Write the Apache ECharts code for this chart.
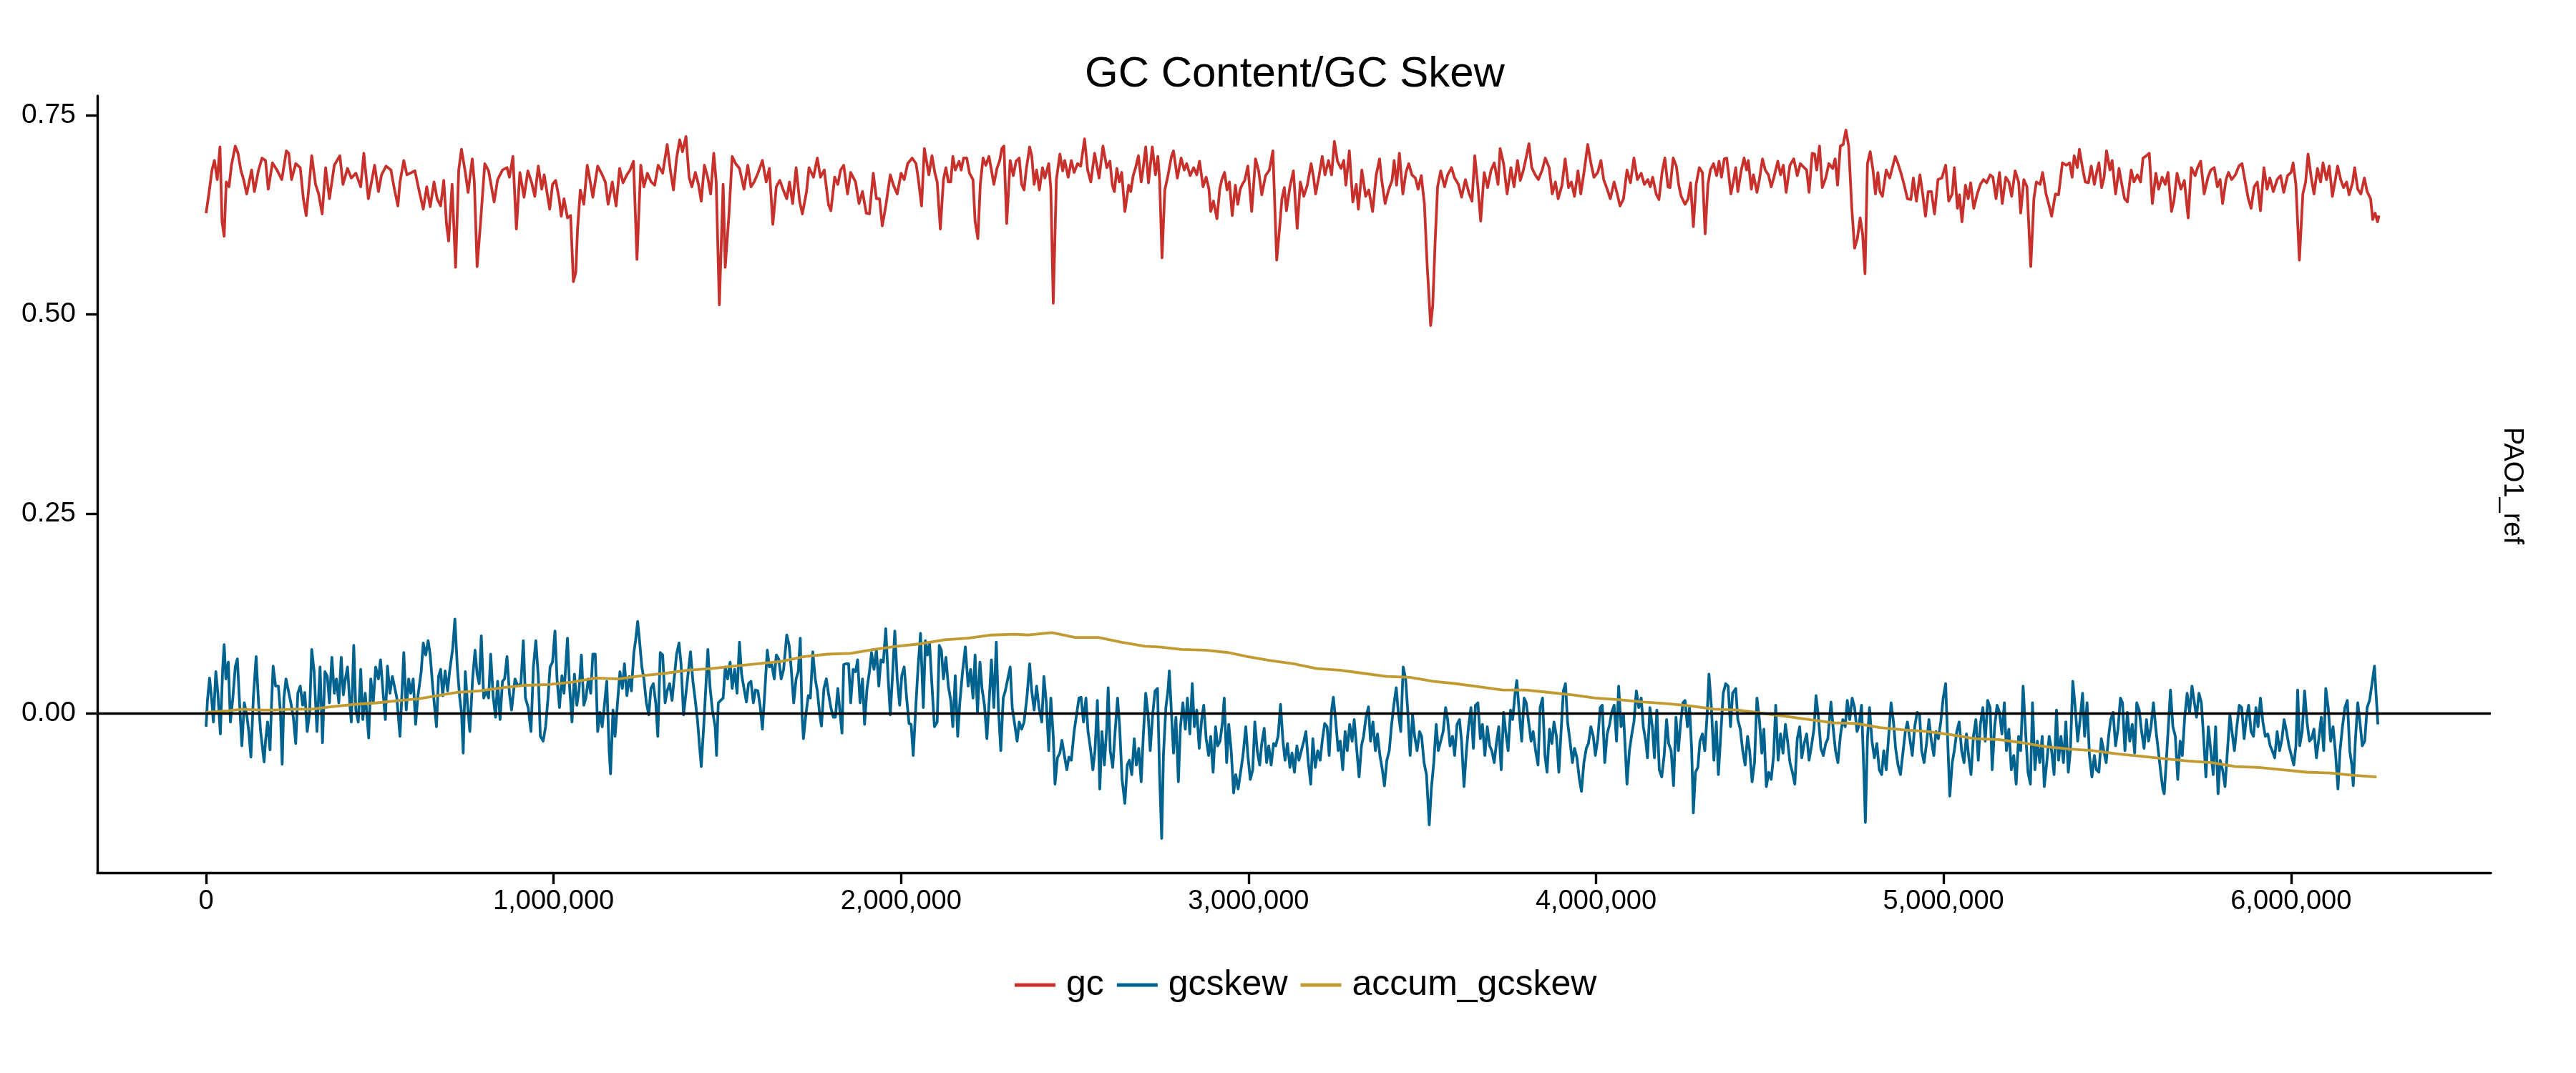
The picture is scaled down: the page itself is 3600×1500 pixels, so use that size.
<!DOCTYPE html>
<html>
<head>
<meta charset="utf-8">
<title>GC Content/GC Skew</title>
<script src="https://cdn.jsdelivr.net/npm/echarts@6/dist/echarts.min.js"></script>
<style>
  html, body { margin: 0; padding: 0; background: #fff; }
  #chart { width: 3600px; height: 1500px; }
</style>
</head>
<body>
<div id="chart"></div>
<script>
// window position in kb, value
var gcPoints = [
  [0,.627],[8,.651],[17,.681],[24,.693],[32,.669],[40,.710],[46,.616],[52,.598],[58,.666],[66,.660],[73,.687],[84,.711],[92,.702],[100,.681],[108,.669],[117,.651],[131,.681],[139,.654],[151,.681],[161,.696],[171,.693],[179,.657],[191,.690],[204,.681],[218,.669],[231,.705],[238,.702],[246,.669],[258,.689],[271,.684],[280,.645],[288,.624],[298,.669],[304,.699],[315,.663],[324,.651],[334,.626],[344,.684],[355,.645],[369,.687],[385,.699],[394,.663],[407,.683],[418,.671],[431,.677],[445,.660],[454,.702],[467,.645],[485,.687],[496,.654],[505,.675],[518,.686],[532,.681],[541,.659],[552,.636],[558,.666],[569,.693],[578,.675],[592,.678],[601,.680],[612,.657],[625,.632],[635,.660],[645,.635],[656,.666],[665,.645],[675,.636],[684,.668],[692,.613],[698,.592],[708,.663],[718,.559],[727,.681],[735,.707],[746,.678],[754,.653],[766,.695],[772,.666],[780,.560],[790,.616],[802,.689],[813,.680],[829,.641],[839,.669],[853,.681],[866,.684],[873,.672],[883,.698],[893,.607],[903,.678],[915,.647],[926,.680],[937,.665],[946,.648],[956,.686],[966,.657],[973,.675],[984,.645],[989,.632],[997,.663],[1006,.668],[1016,.645],[1022,.623],[1030,.645],[1040,.621],[1049,.624],[1057,.541],[1064,.553],[1069,.607],[1077,.656],[1087,.638],[1097,.687],[1107,.663],[1113,.647],[1127,.686],[1140,.675],[1149,.666],[1157,.638],[1169,.666],[1180,.636],[1190,.683],[1200,.665],[1211,.675],[1220,.681],[1230,.692],[1240,.569],[1251,.687],[1260,.660],[1270,.677],[1281,.666],[1291,.662],[1301,.687],[1314,.677],[1327,.713],[1337,.678],[1345,.656],[1354,.696],[1363,.719],[1371,.704],[1381,.723],[1390,.672],[1398,.660],[1408,.678],[1417,.663],[1425,.642],[1434,.687],[1444,.671],[1452,.651],[1461,.702],[1468,.666],[1477,.512],[1488,.663],[1494,.559],[1505,.627],[1514,.698],[1524,.689],[1535,.683],[1548,.657],[1559,.687],[1568,.660],[1577,.666],[1588,.677],[1601,.693],[1612,.666],[1621,.683],[1631,.613],[1641,.660],[1651,.668],[1661,.656],[1671,.645],[1679,.666],[1688,.639],[1698,.684],[1708,.642],[1716,.626],[1728,.654],[1735,.684],[1748,.672],[1759,.696],[1768,.672],[1779,.681],[1791,.638],[1798,.630],[1809,.672],[1818,.663],[1826,.681],[1835,.687],[1846,.651],[1855,.678],[1869,.666],[1879,.639],[1889,.654],[1900,.627],[1909,.626],[1920,.677],[1929,.645],[1938,.645],[1946,.611],[1956,.636],[1969,.675],[1978,.662],[1989,.651],[2000,.677],[2009,.669],[2019,.689],[2032,.696],[2043,.689],[2049,.672],[2059,.636],[2067,.708],
  [2080,.675],[2089,.699],[2097,.678],[2104,.666],[2113,.607],[2122,.669],[2129,.684],[2136,.666],[2143,.666],[2149,.698],[2156,.681],[2167,.692],[2173,.681],[2180,.696],[2189,.696],[2197,.677],[2207,.669],[2213,.617],[2221,.595],[2228,.663],[2236,.696],[2244,.687],[2253,.698],[2260,.681],[2267,.663],[2276,.683],[2284,.693],[2290,.708],[2296,.711],[2304,.614],[2314,.693],[2323,.674],[2331,.692],[2340,.696],[2347,.663],[2354,.656],[2360,.681],[2370,.710],[2376,.699],[2383,.663],[2390,.681],[2398,.656],[2407,.684],[2414,.671],[2425,.689],[2431,.657],[2438,.514],[2447,.669],[2457,.701],[2465,.680],[2471,.693],[2481,.672],[2490,.693],[2498,.678],[2508,.689],[2517,.686],[2528,.720],[2537,.681],[2546,.666],[2557,.702],[2570,.671],[2581,.711],[2592,.684],[2601,.692],[2608,.662],[2614,.654],[2621,.683],[2628,.666],[2635,.678],[2644,.629],[2655,.662],[2661,.654],[2668,.674],[2675,.684],[2683,.699],[2691,.666],[2696,.681],[2704,.710],[2712,.665],[2723,.710],[2732,.675],[2739,.698],[2744,.669],[2751,.571],[2759,.656],[2768,.674],[2778,.698],[2784,.705],[2795,.671],[2806,.696],[2815,.681],[2822,.689],[2832,.674],[2842,.684],[2851,.675],[2859,.692],[2869,.660],[2878,.672],[2886,.657],[2891,.629],[2899,.642],[2909,.620],[2917,.657],[2923,.669],[2931,.678],[2938,.656],[2945,.666],[2953,.624],[2962,.662],[2969,.638],[2976,.657],[2982,.663],[2989,.668],[2998,.686],[3009,.629],[3020,.695],[3029,.680],[3038,.650],[3049,.674],[3060,.681],[3070,.705],[3081,.568],[3089,.607],[3096,.645],[3103,.659],[3109,.630],[3119,.660],[3129,.680],[3140,.608],[3149,.666],[3159,.648],[3169,.662],[3180,.689],[3187,.672],[3193,.651],[3203,.674],[3212,.698],[3220,.675],[3230,.693],[3239,.675],[3247,.717],[3256,.692],[3266,.683],[3274,.693],[3280,.662],[3290,.705],[3300,.641],[3310,.663],[3316,.632],[3326,.681],[3337,.648],[3346,.656],[3357,.629],[3367,.674],[3377,.695],[3383,.669],[3393,.639],[3403,.656],[3413,.668],[3419,.693],[3426,.662],[3434,.702],[3444,.651],[3453,.678],[3461,.689],[3470,.675],[3480,.671],[3488,.657],[3497,.674],[3506,.639],[3514,.562],[3524,.486],[3530,.511],[3537,.592],[3544,.660],[3553,.680],[3564,.660],[3573,.675],[3584,.684],[3593,.671],[3604,.663],[3613,.647],[3624,.669],[3635,.651],[3643,.642],[3651,.699],[3660,.660],[3668,.617],[3678,.678],[3688,.659],[3698,.681],[3707,.690],[3718,.663],[3724,.708],[3734,.689],[3744,.651],[3755,.684],[3764,.660],[3774,.693],[3782,.668],[3791,.681],[3798,.695],[3807,.714],[3815,.684],[3825,.675],[3834,.669],[3845,.681],[3854,.696],[3865,.684],[3874,.651],[3883,.666],[3891,.645],[3902,.662],[3911,.695],[3921,.659],[3929,.666],[3938,.648],[3948,.680],[3956,.651],[3965,.677],[3976,.713],[3985,.690],[3994,.672],[4005,.678],[4014,.693],[4022,.669],[4032,.657],[4041,.645],[4052,.666],[4061,.651],[4069,.636],[4079,.645],[4089,.681],[4099,.665],[4109,.696],[4119,.669],[4130,.677],[4139,.663],
  [4149,.669],[4156,.660],[4163,.672],[4173,.651],[4181,.644],[4190,.678],[4198,.696],[4207,.660],[4213,.659],[4222,.696],[4231,.686],[4238,.662],[4245,.648],[4256,.638],[4265,.645],[4272,.665],[4280,.610],[4288,.663],[4297,.684],[4306,.678],[4314,.601],[4322,.663],[4329,.681],[4338,.689],[4347,.674],[4354,.692],[4361,.672],[4369,.695],[4376,.696],[4381,.678],[4388,.651],[4395,.666],[4402,.684],[4408,.654],[4418,.681],[4426,.696],[4433,.681],[4438,.693],[4447,.657],[4453,.675],[4463,.653],[4470,.669],[4479,.695],[4487,.681],[4496,.675],[4504,.660],[4512,.672],[4523,.692],[4531,.675],[4539,.687],[4547,.653],[4558,.687],[4569,.695],[4579,.674],[4588,.689],[4599,.684],[4606,.681],[4613,.653],[4622,.702],[4629,.701],[4635,.681],[4643,.711],[4651,.659],[4661,.671],[4670,.689],[4681,.683],[4688,.695],[4695,.662],[4703,.711],[4711,.713],[4719,.731],[4727,.711],[4736,.633],[4744,.583],[4752,.595],[4760,.621],[4767,.601],[4774,.551],[4781,.689],[4789,.704],[4797,.681],[4804,.651],[4811,.678],[4817,.654],[4824,.648],[4835,.681],[4845,.671],[4854,.686],[4861,.698],[4869,.689],[4879,.675],[4888,.660],[4896,.645],[4906,.644],[4913,.671],[4922,.642],[4932,.675],[4940,.651],[4948,.623],[4956,.654],[4965,.654],[4974,.626],[4984,.669],[4995,.671],[5006,.687],[5015,.642],[5025,.651],[5031,.684],[5040,.633],[5046,.650],[5053,.616],[5063,.662],[5071,.645],[5078,.665],[5087,.633],[5097,.651],[5106,.663],[5115,.669],[5124,.665],[5134,.675],[5142,.672],[5151,.645],[5161,.678],[5169,.639],[5179,.672],[5188,.666],[5196,.648],[5206,.680],[5216,.666],[5222,.627],[5231,.669],[5240,.660],[5251,.560],[5260,.645],[5267,.666],[5278,.663],[5285,.678],[5295,.651],[5304,.636],[5311,.623],[5322,.651],[5331,.650],[5342,.690],[5353,.687],[5363,.690],[5370,.672],[5376,.699],[5385,.684],[5391,.707],[5401,.681],[5408,.666],[5417,.665],[5425,.686],[5434,.663],[5442,.681],[5447,.690],[5455,.659],[5462,.672],[5469,.705],[5479,.681],[5485,.693],[5495,.651],[5505,.683],[5513,.663],[5521,.645],[5529,.641],[5540,.681],[5548,.666],[5558,.675],[5567,.666],[5574,.696],[5584,.699],[5592,.702],[5601,.639],[5611,.677],[5619,.657],[5629,.672],[5638,.663],[5646,.678],[5656,.629],[5663,.642],[5672,.677],[5683,.657],[5693,.668],[5704,.621],[5713,.684],[5724,.674],[5731,.684],[5740,.692],[5750,.651],[5761,.672],[5769,.681],[5779,.684],[5788,.660],[5796,.669],[5803,.639],[5813,.669],[5820,.678],[5829,.669],[5840,.675],[5850,.686],[5859,.689],[5867,.669],[5877,.645],[5885,.633],[5894,.660],[5903,.666],[5912,.630],[5922,.684],[5931,.657],[5939,.671],[5949,.654],[5960,.669],[5970,.674],[5979,.653],[5990,.674],[6000,.678],[6006,.690],[6014,.663],[6024,.568],[6034,.651],[6042,.666],[6049,.701],[6058,.672],[6066,.651],[6076,.683],[6085,.666],[6092,.690],[6102,.669],[6110,.686],[6119,.648],[6126,.665],[6134,.686],[6143,.669],[6151,.659],[6160,.666],[6167,.650],[6177,.665],[6183,.684],[6192,.657],[6201,.651],[6211,.671],[6219,.654],[6229,.645],[6235,.619],[6242,.627],[6249,.616],[6253,.624]
];

var gcskewPoints = [
  [0,-.017],[4,.016],[10,.044],[17,.013],[21,-.011],[28,.052],[34,.025],[41,-.026],[48,.058],[52,.086],[57,.043],[64,.064],[70,-.011],[77,.019],[84,.058],[90,.068],[97,.007],[103,-.041],[110,.013],[117,-.002],[123,-.023],[129,-.055],[136,.019],[144,.071],[151,.013],[157,-.023],[167,-.061],[171,-.035],[177,-.011],[184,-.046],[188,.007],[193,.059],[200,.034],[208,.034],[214,.001],[219,-.064],[224,.019],[230,.043],[238,.026],[244,.013],[251,-.005],[258,-.038],[264,.025],[271,.034],[278,.010],[284,.026],[291,-.023],[298,.001],[304,.080],[311,.052],[319,-.023],[328,.058],[335,-.037],[342,.052],[349,.046],[355,.013],[362,.070],[369,.025],[375,.043],[382,.013],[389,.070],[395,.023],[401,.043],[407,.058],[414,.010],[418,-.011],[425,.085],[431,.004],[438,-.011],[445,.055],[451,-.008],[458,.025],[468,-.031],[474,.043],[481,.013],[488,.058],[496,.043],[502,.067],[509,.028],[516,-.008],[522,.059],[529,.025],[536,.046],[542,.034],[549,.019],[558,-.029],[569,.076],[576,.004],[583,.043],[589,.025],[596,.043],[603,-.014],[609,.019],[619,.052],[625,.088],[632,.073],[639,.091],[645,.073],[652,.034],[663,-.017],[669,.046],[675,.055],[681,.022],[688,.053],[695,.028],[701,.053],[710,.082],[716,.118],[723,.058],[730,.019],[735,.001],[740,-.050],[746,.052],[752,.013],[759,-.023],[767,.043],[774,.079],[780,.049],[786,.037],[792,.097],[799,.019],[806,.028],[813,.019],[819,.074],[826,.022],[833,-.005],[839,.040],[846,-.008],[853,.040],[859,.043],[866,.071],[873,.025],[879,.004],[889,.043],[897,.034],[906,.037],[913,.091],[919,.019],[927,.007],[935,-.023],[942,.058],[949,.091],[956,.046],[962,-.029],[970,-.035],[977,-.017],[984,.019],[990,.058],[997,.064],[1004,.103],[1010,.043],[1017,.007],[1024,.047],[1030,.025],[1040,.094],[1046,.034],[1053,-.011],[1060,.049],[1067,.010],[1073,.028],[1080,.073],[1087,.010],[1093,.019],[1100,.043],[1107,.025],[1113,.074],[1120,.074],[1127,-.023],[1133,.001],[1140,-.017],[1147,.013],[1153,.040],[1160,-.047],[1164,-.076],[1171,.004],[1177,-.029],[1184,.013],[1191,.052],[1198,.031],[1204,.062],[1211,.022],[1218,.046],[1224,.028],[1231,.076],[1236,.091],[1242,.115],[1248,.088],[1254,.058],[1260,.043],[1267,.013],[1274,-.002],[1280,.031],[1287,.037],[1294,.013],[1300,-.029],[1307,.076],[1314,.073],[1321,.013],[1327,.028],[1334,.037],[1341,.016],[1347,.043],[1354,.074],[1361,.088],[1367,.061],[1374,-.002],[1381,.025],[1387,.049],[1394,.077],[1401,.040],[1407,.019],[1414,-.008],[1420,-.041],[1425,-.067],[1432,-.017],[1438,.031],[1444,.080],[1450,.034],[1457,.004],[1465,-.017],[1469,-.053],[1474,.013],[1481,.016],[1488,.019],[1494,.058],[1501,.043],[1508,.064],[1514,.031],[1521,.055],[1528,.025],[1535,.089],[1541,.049],[1548,.031],[1555,.014],[1561,.037],[1568,.040],[1575,.013],[1581,.029],[1588,.028],[1595,.007],[1601,-.020],[1608,.028],[1615,.079],[1621,.058],[1628,.061],[1635,.043],[1641,.073],[1648,.068],[1655,.043],[1662,.055],[1671,.098],[1678,.085],[1684,.055],[1691,.013],[1698,.043],[1704,.052],[1710,.094],[1715,-.002],[1719,-.032],[1726,-.002],[1733,.022],[1739,.019],[1746,.077],[1753,.043],[1759,.028],[1766,-.002],[1771,-.016],[1778,.031],[1785,.043],[1791,.025],[1798,.007],[1805,-.005],[1811,-.005],[1818,.031],[1825,-.002],[1830,-.025],[1835,.061],[1842,.062],[1849,.062],[1855,.013],[1862,.055],[1869,.052],[1875,.067],[1882,.013],[1889,.043],[1895,-.014],[1902,.031],[1909,.052],[1915,.076],[1922,.055],[1929,.079],[1936,.034],[1942,.067],[1949,.064],[1956,.106],[1963,.043],[1969,-.002],[1976,.052],[1982,.103],[1989,.043],[1996,.010],[2002,.047],[2009,.058],[2016,.019],[2023,-.013],[2029,-.014],[2035,-.053],[2043,.013],[2049,.058],[2056,.100],
  [2064,.007],[2070,.091],[2076,.073],[2082,.088],[2089,.034],[2096,-.017],[2104,-.011],[2110,.085],[2116,.079],[2122,.043],[2129,.070],[2136,.034],[2143,.016],[2149,-.017],[2156,.047],[2163,-.029],[2169,.013],[2177,.052],[2185,.083],[2193,.034],[2200,.055],[2207,.019],[2213,.073],[2220,.001],[2227,.064],[2233,.031],[2240,.010],[2247,-.032],[2254,.019],[2260,.067],[2267,.007],[2274,.089],[2280,.007],[2287,-.047],[2294,.019],[2300,.028],[2307,.043],[2314,.058],[2320,.007],[2327,-.014],[2334,-.035],[2340,-.011],[2347,-.020],[2354,-.011],[2362,.019],[2370,.062],[2376,.028],[2383,.004],[2390,.034],[2397,.007],[2405,-.011],[2411,.046],[2418,.013],[2425,-.047],[2431,.019],[2438,-.029],[2443,-.089],[2450,-.056],[2457,-.050],[2463,-.034],[2470,-.053],[2477,-.071],[2483,-.055],[2490,-.059],[2498,-.023],[2505,-.002],[2512,.019],[2518,.020],[2525,-.011],[2532,.019],[2538,-.023],[2545,-.044],[2552,-.071],[2558,-.047],[2565,.016],[2572,-.095],[2578,-.023],[2585,-.065],[2592,-.017],[2596,.032],[2602,-.047],[2609,-.068],[2616,-.023],[2623,.019],[2629,-.017],[2636,-.083],[2644,-.113],[2651,-.065],[2657,-.059],[2664,-.077],[2671,-.032],[2677,-.065],[2684,-.044],[2691,-.086],[2697,-.029],[2704,.025],[2711,-.002],[2717,-.047],[2724,-.002],[2731,.028],[2738,.031],[2744,-.077],[2750,-.157],[2755,-.053],[2762,.007],[2768,.028],[2772,.053],[2778,.001],[2784,-.050],[2791,-.005],[2798,-.086],[2804,-.017],[2811,.013],[2818,-.020],[2824,.019],[2831,-.026],[2838,.037],[2844,-.017],[2851,.004],[2858,-.044],[2865,-.008],[2871,.010],[2878,-.032],[2885,-.053],[2891,-.029],[2898,-.074],[2905,-.017],[2911,-.041],[2918,-.035],[2925,-.011],[2930,.019],[2937,-.062],[2943,-.014],[2950,-.047],[2957,-.100],[2963,-.077],[2970,-.095],[2977,-.074],[2984,-.053],[2992,-.017],[2998,-.053],[3005,-.083],[3012,-.071],[3018,-.011],[3025,-.047],[3032,-.065],[3038,-.038],[3045,-.019],[3052,-.062],[3058,-.041],[3065,-.065],[3072,-.038],[3078,-.041],[3085,-.029],[3092,.011],[3099,-.035],[3105,-.059],[3112,-.038],[3119,-.068],[3125,-.050],[3132,-.074],[3139,-.041],[3145,-.059],[3152,-.047],[3159,-.035],[3165,-.023],[3172,-.062],[3179,-.089],[3185,-.032],[3192,-.068],[3199,-.047],[3206,-.059],[3212,-.035],[3219,-.013],[3226,-.017],[3232,-.053],[3239,.004],[3244,.020],[3251,-.011],[3258,-.047],[3264,-.035],[3271,-.071],[3278,-.023],[3284,-.047],[3291,-.014],[3298,-.035],[3304,-.008],[3311,-.044],[3318,-.080],[3325,-.041],[3331,-.029],[3338,-.005],[3345,.008],[3351,-.035],[3358,-.011],[3365,-.047],[3371,-.026],[3378,-.053],[3385,-.071],[3391,-.091],[3398,-.059],[3405,-.047],[3411,-.017],[3418,.010],[3425,.032],[3431,.001],[3438,-.023],[3445,.058],[3452,.043],[3458,.004],[3465,-.053],[3472,-.002],[3478,-.029],[3485,-.047],[3492,-.023],[3498,-.029],[3505,-.062],[3512,-.077],[3520,-.140],[3526,-.095],[3533,-.062],[3540,-.014],[3546,-.047],[3553,-.035],[3560,-.023],[3567,.007],[3573,-.008],[3580,-.041],[3587,-.029],[3593,-.053],[3600,-.014],[3607,-.008],[3613,-.035],[3620,-.092],[3627,-.047],[3633,-.017],[3640,.007],[3647,-.044],[3653,.010],[3660,.013],[3667,-.032],[3673,-.014],[3680,-.053],[3687,-.017],[3694,-.041],[3700,-.047],[3707,-.062],[3714,-.035],[3720,-.017],[3727,-.071],[3734,.001],[3740,-.023],[3747,-.047],[3754,.004],[3760,-.008],[3767,.025],[3772,.041],[3779,.001],[3786,-.035],[3793,.019],[3799,.013],[3806,-.011],[3813,-.035],[3819,-.023],[3826,-.047],[3833,-.065],[3839,.007],[3846,.019],[3853,-.053],[3859,-.074],[3866,-.020],[3873,-.038],[3879,-.011],[3886,-.029],[3893,-.074],[3899,-.026],[3906,.028],[3912,.037],[3918,-.011],[3925,-.035],[3932,-.062],[3938,-.044],[3945,-.056],[3952,-.083],[3958,-.098],[3965,-.062],[3972,-.044],[3978,-.038],[3985,-.017],[3992,-.029],[3998,-.053],[4005,-.032],[4012,.007],[4018,.010],[4025,-.062],[4032,-.026],[4039,-.014],[4045,.001],[4052,.010],[4059,-.035],[4065,.034],[4072,-.017],[4079,-.002],[4085,-.053],[4089,-.089],[4096,-.047],[4103,-.026],[4109,-.011],[4116,.028],[4123,.007],[4130,.019],[4136,-.017],
  [4143,-.035],[4148,-.056],[4155,.007],[4162,-.017],[4168,-.056],[4175,.004],[4182,-.071],[4189,-.080],[4196,-.053],[4203,-.008],[4209,-.038],[4216,-.047],[4223,-.091],[4230,-.005],[4237,-.047],[4243,-.014],[4250,.013],[4256,.016],[4263,-.017],[4269,.007],[4275,-.044],[4280,-.125],[4286,-.074],[4293,-.068],[4299,-.035],[4306,-.026],[4313,-.047],[4320,.001],[4325,.049],[4332,.007],[4339,-.059],[4346,-.011],[4352,-.077],[4359,-.026],[4366,.025],[4373,.037],[4380,.034],[4387,-.017],[4393,.025],[4402,.031],[4408,-.008],[4415,-.020],[4422,-.047],[4429,-.065],[4436,-.029],[4442,-.047],[4449,-.086],[4456,-.062],[4463,.019],[4470,-.008],[4477,-.050],[4483,-.020],[4490,-.092],[4497,-.074],[4504,-.083],[4511,-.053],[4517,.010],[4524,-.059],[4531,-.026],[4538,-.050],[4545,-.014],[4552,-.038],[4558,-.062],[4565,-.074],[4572,-.089],[4579,-.032],[4586,-.017],[4592,-.056],[4599,-.038],[4606,-.026],[4613,-.059],[4620,-.041],[4627,-.020],[4633,.022],[4640,-.005],[4647,-.044],[4654,-.053],[4661,-.038],[4667,-.032],[4676,.014],[4682,-.017],[4689,-.047],[4696,-.062],[4703,-.029],[4710,-.008],[4717,-.017],[4723,.016],[4730,-.008],[4737,.019],[4744,.007],[4751,-.023],[4757,-.014],[4764,.010],[4771,-.077],[4775,-.137],[4781,-.032],[4787,.007],[4794,-.035],[4801,-.056],[4808,-.038],[4815,-.071],[4822,-.077],[4828,-.047],[4835,-.071],[4842,-.029],[4849,.013],[4856,-.011],[4862,-.044],[4869,-.065],[4876,-.077],[4883,-.050],[4890,-.023],[4896,-.011],[4903,-.032],[4910,-.053],[4917,-.017],[4924,.001],[4931,-.002],[4937,-.047],[4944,-.062],[4951,-.038],[4958,-.008],[4965,-.035],[4972,-.053],[4978,-.023],[4985,-.032],[4992,-.011],[4999,.019],[5006,.037],[5012,-.035],[5018,-.104],[5025,-.062],[5031,-.047],[5038,-.023],[5045,-.011],[5052,-.047],[5059,-.062],[5066,-.026],[5072,-.053],[5079,-.077],[5086,-.029],[5093,-.008],[5100,-.059],[5106,-.014],[5113,.007],[5120,-.035],[5127,.016],[5134,.007],[5140,-.071],[5147,-.017],[5154,.010],[5161,.001],[5168,-.026],[5175,.013],[5181,-.047],[5188,-.020],[5195,-.071],[5202,-.053],[5209,-.089],[5216,-.029],[5222,-.047],[5229,.034],[5236,-.023],[5243,-.074],[5250,-.089],[5256,.013],[5263,-.071],[5270,-.035],[5277,-.062],[5284,-.029],[5290,-.092],[5297,-.062],[5304,-.029],[5311,-.047],[5318,-.077],[5325,.004],[5331,-.059],[5338,-.029],[5345,-.062],[5352,-.011],[5359,-.074],[5365,-.047],[5372,.040],[5379,.007],[5386,-.035],[5393,-.008],[5400,.025],[5406,-.029],[5413,.013],[5420,-.053],[5427,-.080],[5434,-.053],[5440,-.071],[5447,-.074],[5454,-.032],[5461,-.047],[5468,-.062],[5475,-.029],[5481,-.008],[5488,.001],[5495,-.041],[5502,-.020],[5509,.019],[5515,.013],[5522,-.047],[5529,.001],[5536,-.035],[5543,-.014],[5550,-.050],[5556,.013],[5563,.004],[5570,-.023],[5577,-.044],[5584,-.008],[5590,-.035],[5597,-.017],[5604,.013],[5611,-.020],[5618,-.047],[5625,-.074],[5631,-.095],[5635,-.101],[5642,-.053],[5649,-.002],[5653,.029],[5660,-.017],[5667,-.029],[5674,-.083],[5681,-.035],[5687,-.053],[5694,-.005],[5701,.025],[5708,.001],[5715,.034],[5721,.016],[5728,-.005],[5735,.025],[5742,.013],[5749,-.035],[5755,-.080],[5762,-.017],[5769,-.047],[5776,-.077],[5783,-.017],[5790,-.101],[5796,-.059],[5803,-.071],[5810,-.092],[5817,-.047],[5824,-.002],[5830,-.023],[5837,-.047],[5844,-.017],[5851,.010],[5858,.007],[5865,-.032],[5871,-.008],[5878,.010],[5885,-.023],[5892,-.029],[5899,.007],[5905,-.017],[5912,.019],[5919,-.011],[5926,-.029],[5933,-.026],[5940,-.041],[5946,-.047],[5953,-.056],[5960,-.023],[5967,-.047],[5974,-.032],[5980,-.008],[5987,-.023],[5994,-.041],[6001,-.053],[6008,-.065],[6014,-.041],[6019,.029],[6025,-.041],[6032,-.023],[6039,.028],[6046,-.011],[6053,-.035],[6059,-.032],[6066,-.020],[6073,-.056],[6080,-.032],[6087,-.005],[6094,-.047],[6100,.031],[6107,.007],[6114,-.035],[6121,-.017],[6128,-.050],[6135,-.095],[6141,-.047],[6148,-.017],[6155,.007],[6162,.016],[6169,-.047],[6175,-.065],[6179,-.091],[6185,-.035],[6192,.013],[6199,-.014],[6205,-.041],[6212,-.035],[6219,.007],[6226,.016],[6233,.037],[6240,.059],[6245,.022],[6250,-.014]
];

var accumPoints = [
  [0,.001],[64,.003],[104,.005],[157,.004],[197,.004],[251,.005],[304,.005],[358,.008],[425,.011],[492,.013],[559,.016],[612,.018],[652,.021],[719,.026],[786,.028],[853,.032],[920,.035],[986,.036],[1053,.039],[1120,.044],[1187,.043],[1254,.047],[1321,.050],[1387,.054],[1454,.056],[1521,.059],[1588,.062],[1655,.065],[1722,.071],[1789,.074],[1855,.075],[1922,.080],[1989,.084],[2056,.087],[2126,.092],[2193,.094],[2260,.098],[2327,.099],[2367,.098],[2434,.101],[2501,.095],[2568,.095],[2635,.089],[2701,.084],[2742,.083],[2808,.080],[2875,.079],[2942,.076],[2996,.071],[3062,.066],[3129,.062],[3196,.056],[3263,.054],[3330,.050],[3397,.046],[3464,.045],[3530,.040],[3597,.037],[3664,.033],[3731,.029],[3798,.029],[3865,.026],[3932,.023],[3998,.019],[4065,.017],[4136,.014],[4204,.012],[4272,.009],[4340,.005],[4408,.004],[4477,.000],[4545,-.004],[4613,-.008],[4681,-.012],[4749,-.013],[4817,-.018],[4886,-.021],[4954,-.023],[5022,-.027],[5090,-.032],[5158,-.033],[5226,-.037],[5295,-.042],[5363,-.045],[5431,-.047],[5499,-.051],[5567,-.054],[5635,-.057],[5704,-.060],[5772,-.062],[5840,-.067],[5908,-.068],[5976,-.071],[6045,-.074],[6113,-.075],[6181,-.078],[6246,-.080]
];

var seriesNames = ['gc', 'gcskew', 'accum_gcskew'];
var seriesColors = ['#C8312B', '#00638F', '#C29A32'];
var xTicks = [0, 1000000, 2000000, 3000000, 4000000, 5000000, 6000000];
var yTicks = [0, 0.25, 0.5, 0.75];

var font = 'Liberation Sans, Arial, Helvetica, sans-serif';

function toXY(points) {
  return points.map(function (p) { return [p[0] * 1000, p[1]]; });
}

var chart = echarts.init(document.getElementById('chart'), null, { renderer: 'canvas' });

var makeSeries = function (i, points) {
  return {
    name: seriesNames[i],
    type: 'line',
    data: toXY(points),
    showSymbol: false,
    symbol: 'none',
    smooth: false,
    lineStyle: { width: 3.8, color: seriesColors[i], join: 'round' },
    itemStyle: { color: seriesColors[i] },
    z: 2 + i
  };
};

var series = [
  makeSeries(0, gcPoints),
  makeSeries(1, gcskewPoints),
  makeSeries(2, accumPoints)
];
series[2].markLine = {
  silent: true,
  symbol: ['none', 'none'],
  label: { show: false },
  lineStyle: { color: '#000', width: 3.4, type: 'solid' },
  data: [{ yAxis: 0 }]
};

var option = {
  backgroundColor: '#fff',
  animation: false,
  textStyle: { fontFamily: font },
  title: {
    text: 'GC Content/GC Skew',
    left: 1511,
    top: 69,
    textStyle: { fontFamily: font, fontSize: 60, fontWeight: 'normal', color: '#000' }
  },
  legend: {
    data: seriesNames,
    left: 1413,
    top: 1347,
    icon: 'rect',
    itemWidth: 57,
    itemHeight: 5,
    itemGap: 18,
    textStyle: { fontFamily: font, fontSize: 50, color: '#000', padding: [0, 0, 0, 10] }
  },
  grid: {
    left: 136,
    right: 119,
    top: 134,
    bottom: 280,
    containLabel: false,
    outerBoundsMode: 'none'
  },
  xAxis: {
    type: 'value',
    min: -313000,
    max: 6575000,
    splitLine: { show: false },
    axisLine: { show: true, onZero: false, lineStyle: { color: '#000', width: 3.4 } },
    axisTick: { show: true, length: 16, customValues: xTicks, lineStyle: { color: '#000', width: 3.4 } },
    axisLabel: {
      customValues: xTicks,
      margin: 22,
      fontSize: 38,
      fontFamily: font,
      color: '#000',
      formatter: function (v) { return Number(v).toLocaleString('en-US'); }
    }
  },
  yAxis: {
    type: 'value',
    min: -0.2,
    max: 0.774,
    splitLine: { show: false },
    axisLine: { show: true, onZero: false, lineStyle: { color: '#000', width: 3.4 } },
    axisTick: { show: true, length: 16, customValues: yTicks, lineStyle: { color: '#000', width: 3.4 } },
    axisLabel: {
      customValues: yTicks,
      margin: 30,
      fontSize: 39,
      fontFamily: font,
      color: '#000',
      formatter: function (v) { return Number(v).toFixed(2); }
    }
  },
  graphic: [{
    type: 'text',
    x: 3510,
    y: 679,
    rotation: -Math.PI / 2,
    style: {
      text: 'PAO1_ref',
      fontFamily: font,
      fontSize: 38,
      fill: '#000',
      align: 'center',
      verticalAlign: 'middle'
    }
  }],
  series: series
};

chart.setOption(option);
</script>
</body>
</html>
